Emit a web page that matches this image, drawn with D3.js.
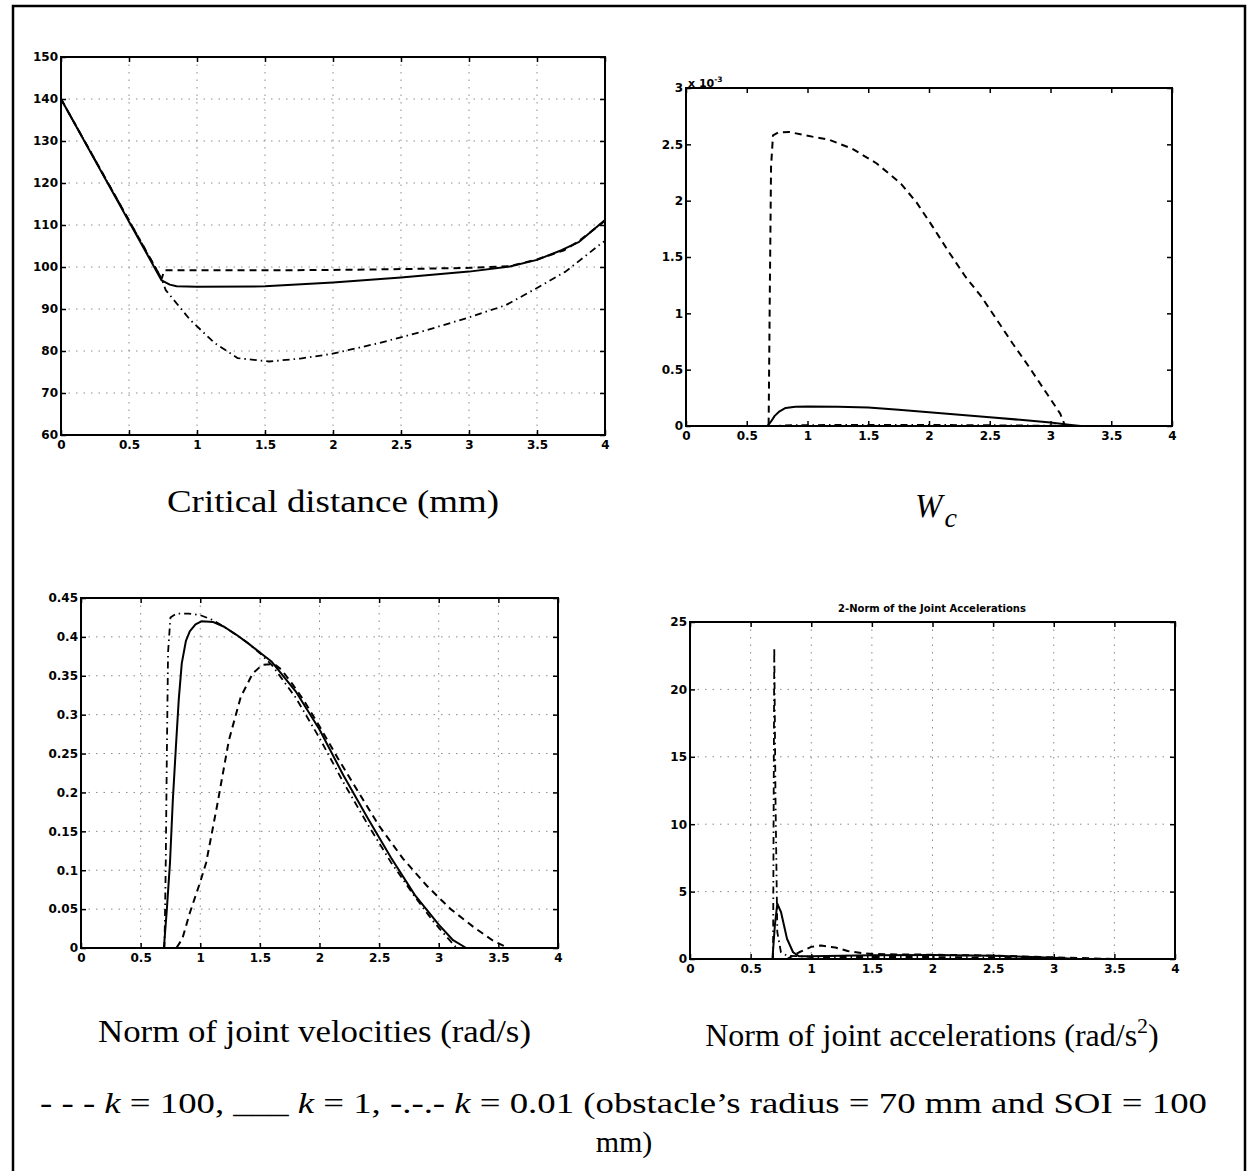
<!DOCTYPE html>
<html><head><meta charset="utf-8">
<script src="https://cdn.jsdelivr.net/npm/d3@7"></script>
<style>body{margin:0;background:#fff}svg{display:block}</style>
</head><body>
<svg id="c" width="1248" height="1171"></svg>
<script>
// ---------------- data ----------------
const xTickValues = [0, 0.5, 1, 1.5, 2, 2.5, 3, 3.5, 4];
const xTickLabels = ["0", "0.5", "1", "1.5", "2", "2.5", "3", "3.5", "4"];

const critTickValues = [60, 70, 80, 90, 100, 110, 120, 130, 140, 150];
const critTickLabels = ["60", "70", "80", "90", "100", "110", "120", "130", "140", "150"];
const wcTickValues = [0, 0.5, 1, 1.5, 2, 2.5, 3];
const wcTickLabels = ["0", "0.5", "1", "1.5", "2", "2.5", "3"];
const velTickValues = [0, 0.05, 0.1, 0.15, 0.2, 0.25, 0.3, 0.35, 0.4, 0.45];
const velTickLabels = ["0", "0.05", "0.1", "0.15", "0.2", "0.25", "0.3", "0.35", "0.4", "0.45"];
const accTickValues = [0, 5, 10, 15, 20, 25];
const accTickLabels = ["0", "5", "10", "15", "20", "25"];

// Critical distance (mm)
const critK100 = [[0,140],[0.74,97.2],[0.76,99.2],[1,99.2],[1.5,99.2],[2,99.3],[2.5,99.5],[3,99.8],[3.3,100.2],[3.5,101.8],[3.7,104],[3.8,106],[4,111]];
const critK1 = [[0,140],[0.74,96.8],[0.8,95.8],[0.85,95.4],[1,95.3],[1.5,95.4],[2,96.3],[2.5,97.5],[3,98.9],[3.3,100.1],[3.5,101.7],[3.68,104],[3.81,106],[4,111.2]];
const critK001 = [[0,140],[0.74,97.2],[0.77,94.5],[0.95,87.4],[1.13,81.9],[1.3,78.3],[1.53,77.5],[1.76,78.2],[1.99,79.3],[2.34,81.9],[2.63,84.4],[2.98,87.8],[3.27,90.9],[3.5,95],[3.71,98.9],[3.98,105.8],[4,106.2]];

// W_c (x 10^-3)
const wcK100 = [[0,0],[0.68,0],[0.69,1.2],[0.70,2.3],[0.716,2.58],[0.76,2.605],[0.85,2.61],[0.98,2.58],[1.18,2.54],[1.37,2.46],[1.57,2.33],[1.77,2.15],[1.9,1.98],[2.03,1.77],[2.16,1.55],[2.3,1.325],[2.43,1.15],[2.56,0.94],[2.69,0.73],[2.82,0.53],[2.95,0.32],[3.08,0.11],[3.12,0],[4,0]];
const wcK1 = [[0,0],[0.67,0],[0.7,0.04],[0.73,0.09],[0.77,0.13],[0.82,0.16],[0.9,0.17],[1,0.172],[1.25,0.17],[1.5,0.165],[1.75,0.145],[2,0.122],[2.25,0.1],[2.5,0.078],[2.75,0.055],[3,0.03],[3.15,0.012],[3.25,0],[4,0]];
const wcK001 = [[0,0],[0.7,0],[0.9,0.008],[1.5,0.01],[2,0.01],[2.5,0.007],[3,0.003],[3.2,0],[4,0]];

// Norm of joint velocities (rad/s)
const velK100 = [[0,0],[0.8,0],[0.85,0.012],[0.91,0.044],[1,0.085],[1.05,0.11],[1.14,0.182],[1.24,0.267],[1.34,0.323],[1.44,0.353],[1.52,0.364],[1.62,0.365],[1.68,0.358],[1.77,0.34],[1.87,0.318],[2,0.285],[2.15,0.245],[2.3,0.207],[2.5,0.157],[2.7,0.115],[2.9,0.08],[3.1,0.05],[3.3,0.026],[3.45,0.01],[3.58,0],[4,0]];
const velK1 = [[0,0],[0.695,0],[0.72,0.05],[0.746,0.109],[0.77,0.19],[0.796,0.259],[0.82,0.32],[0.845,0.366],[0.88,0.395],[0.912,0.407],[0.96,0.416],[1.01,0.42],[1.11,0.419],[1.2,0.413],[1.3,0.403],[1.4,0.392],[1.5,0.38],[1.6,0.368],[1.8,0.33],[2,0.281],[2.2,0.222],[2.4,0.168],[2.6,0.116],[2.8,0.068],[3,0.03],[3.12,0.01],[3.23,0],[4,0]];
const velK001 = [[0,0],[0.7,0],[0.71,0.1],[0.72,0.25],[0.73,0.38],[0.75,0.425],[0.8,0.43],[0.9,0.43],[1,0.428],[1.1,0.422],[1.2,0.413],[1.3,0.403],[1.4,0.392],[1.5,0.379],[1.6,0.364],[1.8,0.322],[2,0.27],[2.2,0.213],[2.4,0.16],[2.6,0.11],[2.8,0.066],[2.95,0.035],[3.08,0.012],[3.15,0],[4,0]];

// Norm of joint accelerations (rad/s^2)
const accK100 = [[0,0],[0.8,0],[0.9,0.5],[1,0.9],[1.08,1.0],[1.2,0.85],[1.3,0.6],[1.45,0.4],[1.6,0.35],[2,0.32],[2.5,0.25],[3,0.12],[3.3,0.05],[3.5,0],[4,0]];
const accK1 = [[0,0],[0.68,0],[0.70,2.5],[0.72,4.1],[0.75,3.5],[0.8,1.5],[0.85,0.5],[0.9,0.2],[1,0.2],[1.5,0.28],[2,0.3],[2.5,0.25],[3,0.1],[3.2,0],[4,0]];
const accK001 = [[0,0],[0.685,0],[0.695,23.1],[0.705,12],[0.72,2],[0.75,0.5],[0.8,0.25],[1,0.15],[1.5,0.15],[2,0.15],[2.7,0.1],[3.1,0],[4,0]];

const captionCrit = "Critical distance (mm)";
const captionVel = "Norm of joint velocities (rad/s)";
const captionAcc = "Norm of joint accelerations (rad/s";
const titleAcc = "2-Norm of the Joint Accelerations";

// ---------------- drawing ----------------
const svg = d3.select("#c");
const TICKFONT = "'DejaVu Sans', sans-serif";
const SERIF = "'Liberation Serif', 'Times New Roman', serif";

const styles = {
  k100: {dash: "7,5", width: 2},
  k1: {dash: null, width: 2},
  k001: {dash: "7,4,1.5,4", width: 1.8}
};

function panel(cfg) {
  const x = d3.scaleLinear().domain([0, 4]).range([cfg.x0, cfg.x1]);
  const y = d3.scaleLinear().domain(cfg.yDomain).range([cfg.y1, cfg.y0]);
  const g = svg.append("g");

  if (cfg.grid) {
    const grid = g.append("g").attr("stroke", "#8a8a8a").attr("stroke-width", 1).attr("stroke-dasharray", "1.5,6");
    grid.selectAll("line.h").data(cfg.yTicks.slice(1, -1)).join("line")
      .attr("x1", cfg.x0).attr("x2", cfg.x1).attr("y1", d => y(d)).attr("y2", d => y(d));
    grid.selectAll("line.v").data(xTickValues.slice(1, -1)).join("line")
      .attr("x1", d => x(d)).attr("x2", d => x(d)).attr("y1", cfg.y0).attr("y2", cfg.y1);
  }

  const line = d3.line().x(d => x(d[0])).y(d => y(d[1]));
  cfg.series.forEach(s => {
    const st = styles[s.style];
    g.append("path").datum(s.data).attr("d", line).attr("fill", "none")
      .attr("stroke", "#000").attr("stroke-width", st.width)
      .attr("stroke-dasharray", st.dash).attr("stroke-linejoin", "round");
  });

  const fmtX = (d, i) => xTickLabels[i];
  const fmtY = (d, i) => cfg.yLabels[i];
  const bottom = g.append("g").attr("transform", `translate(0,${cfg.y1})`)
    .call(d3.axisBottom(x).tickValues(xTickValues).tickFormat(fmtX).tickSize(-5).tickPadding(5));
  const left = g.append("g").attr("transform", `translate(${cfg.x0},0)`)
    .call(d3.axisLeft(y).tickValues(cfg.yTicks).tickFormat(fmtY).tickSize(-5).tickPadding(3));
  const top = g.append("g").attr("transform", `translate(0,${cfg.y0})`)
    .call(d3.axisTop(x).tickValues(xTickValues).tickFormat("").tickSize(-5));
  const right = g.append("g").attr("transform", `translate(${cfg.x1},0)`)
    .call(d3.axisRight(y).tickValues(cfg.yTicks).tickFormat("").tickSize(-5));
  [bottom, left, top, right].forEach(a => {
    a.select(".domain").remove();
    a.selectAll(".tick line").attr("stroke", "#000").attr("stroke-width", 1.5);
    a.selectAll("text").attr("font-family", TICKFONT).attr("font-weight", "bold")
      .attr("font-size", 12).attr("fill", "#000");
  });

  g.append("rect").attr("x", cfg.x0).attr("y", cfg.y0)
    .attr("width", cfg.x1 - cfg.x0).attr("height", cfg.y1 - cfg.y0)
    .attr("fill", "none").attr("stroke", "#000").attr("stroke-width", 2);
  return {x, y, g};
}

// outer frame (open at the bottom, as cropped)
svg.append("path").attr("d", "M13,1171 L13,6 L1245,6 L1245,1171")
  .attr("fill", "none").attr("stroke", "#000").attr("stroke-width", 2.5);

panel({x0: 61, x1: 605, y0: 57, y1: 435, yDomain: [60, 150],
  yTicks: critTickValues, yLabels: critTickLabels, grid: true,
  series: [{data: critK001, style: "k001"}, {data: critK100, style: "k100"}, {data: critK1, style: "k1"}]});

panel({x0: 686, x1: 1172, y0: 88, y1: 426, yDomain: [0, 3],
  yTicks: wcTickValues, yLabels: wcTickLabels, grid: false,
  series: [{data: wcK001, style: "k001"}, {data: wcK100, style: "k100"}, {data: wcK1, style: "k1"}]});

panel({x0: 81, x1: 558, y0: 598, y1: 948, yDomain: [0, 0.45],
  yTicks: velTickValues, yLabels: velTickLabels, grid: true,
  series: [{data: velK100, style: "k100"}, {data: velK001, style: "k001"}, {data: velK1, style: "k1"}]});

panel({x0: 690, x1: 1175, y0: 622, y1: 959, yDomain: [0, 25],
  yTicks: accTickValues, yLabels: accTickLabels, grid: true,
  series: [{data: accK100, style: "k100"}, {data: accK001, style: "k001"}, {data: accK1, style: "k1"}]});

// exponent label of the W_c panel
const exp = svg.append("text").attr("x", 688).attr("y", 87)
  .attr("font-family", TICKFONT).attr("font-weight", "bold").attr("font-size", 11).text("x 10");
exp.append("tspan").attr("font-size", 7.5).attr("dy", -5).text("-3");

// title of the accelerations panel
svg.append("text").attr("x", 932).attr("y", 612).attr("text-anchor", "middle")
  .attr("font-family", TICKFONT).attr("font-weight", "bold").attr("font-size", 10)
  .text(titleAcc);

// captions (the scanned type is slightly stretched horizontally)
svg.append("text").attr("x", 167).attr("y", 512)
  .attr("font-family", SERIF).attr("font-size", 32)
  .attr("textLength", 332).attr("lengthAdjust", "spacingAndGlyphs").text(captionCrit);

const wc = svg.append("text").attr("x", 915).attr("y", 517)
  .attr("font-family", SERIF).attr("font-size", 33).attr("font-style", "italic").text("W");
wc.append("tspan").attr("font-size", 28).attr("dy", 10).attr("dx", 2).text("c");

svg.append("text").attr("x", 98).attr("y", 1042)
  .attr("font-family", SERIF).attr("font-size", 32)
  .attr("textLength", 433).attr("lengthAdjust", "spacingAndGlyphs").text(captionVel);

const acc = svg.append("text").attr("x", 932).attr("y", 1046).attr("text-anchor", "middle")
  .attr("font-family", SERIF).attr("font-size", 32).text(captionAcc);
acc.append("tspan").attr("font-size", 22).attr("dy", -13).text("2");
acc.append("tspan").attr("dy", 13).text(")");

// legend line
const leg = svg.append("text").attr("x", 40).attr("y", 1113)
  .attr("font-family", SERIF).attr("font-size", 30)
  .attr("textLength", 1167).attr("lengthAdjust", "spacingAndGlyphs");
leg.append("tspan").text("- - - ");
leg.append("tspan").attr("font-style", "italic").text("k");
leg.append("tspan").text(" = 100, ___ ");
leg.append("tspan").attr("font-style", "italic").text("k");
leg.append("tspan").text(" = 1, -.-.- ");
leg.append("tspan").attr("font-style", "italic").text("k");
leg.append("tspan").text(" = 0.01 (obstacle\u2019s radius = 70 mm and SOI = 100");

svg.append("text").attr("x", 624).attr("y", 1152).attr("text-anchor", "middle")
  .attr("font-family", SERIF).attr("font-size", 30).text("mm)");
</script>
</body></html>
